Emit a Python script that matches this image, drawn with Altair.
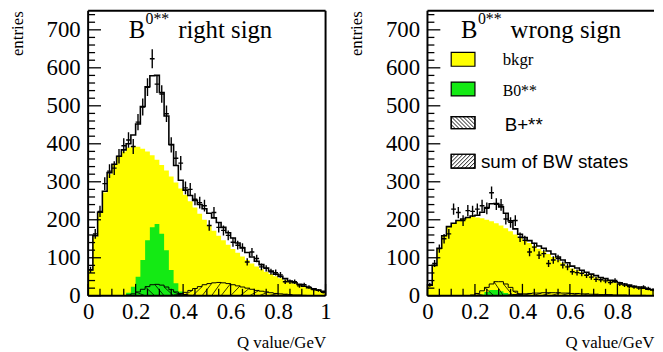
import altair as alt
import pandas as pd

# ---------------- data (50 bins of 0.02 GeV) ----------------
BIN_LO = [round(0.02 * i, 2) for i in range(50)]
X_TICKS = [0, 0.2, 0.4, 0.6, 0.8, 1]
Y_TICKS = [0, 100, 200, 300, 400, 500, 600, 700]
X_MINOR = [round(0.05 * i, 2) for i in range(21)]
Y_MINOR = list(range(0, 760, 20))

# right sign
bkgr_rs = [65, 155, 218, 272, 320, 345, 365, 380, 390, 394,
           392, 387, 380, 370, 358, 344, 330, 314, 298, 282,
           266, 249, 232, 216, 200, 185, 171, 158, 146, 134,
           123, 113, 103, 94, 85, 77, 70, 63, 57, 51,
           46, 41, 36, 32, 28, 24, 21, 18, 15, 12]
b0_rs = [0] * 8 + [8, 24, 50, 94, 146, 180, 189, 163, 120, 68, 33, 11] + [0] * 30
bplus_rs = [0] * 8 + [2, 5, 10, 17, 24, 29, 30, 28, 23, 16, 10, 6, 3, 1] + [0] * 28
bw_rs = [0] * 18 + [2, 5, 9, 14, 19, 24, 29, 32, 34, 35, 34, 32, 29, 26, 23, 20, 17, 14,
                    12, 10, 8, 6, 5, 4, 3, 2, 2, 1] + [0] * 4
fit_rs = [68, 158, 220, 275, 324, 346, 367, 384, 400, 423,
          452, 498, 550, 579, 580, 535, 473, 398, 343, 304,
          278, 264, 251, 240, 229, 217, 205, 193, 180, 166,
          152, 139, 126, 114, 102, 91, 82, 73, 65, 57,
          51, 45, 39, 34, 30, 25, 21, 18, 15, 12]
data_rs = [68, 163, 222, 295, 328, 336, 367, 395, 410, 393,
           457, 497, 549, 624, 557, 531, 479, 397, 362, 349,
           284, 280, 254, 245, 237, 185, 219, 180, 172, 159,
           141, 133, 127, 89, 115, 98, 76, 72, 63, 61,
           55, 37, 37, 37, 26, 29, 23, 16, 14, 9]

# wrong sign
bkgr_ws = [28, 80, 125, 158, 182, 191, 198, 202, 206, 208,
           206, 204, 200, 196, 191, 185, 178, 170, 161, 153,
           146, 139, 131, 124, 117, 110, 102, 94, 87, 80,
           72, 67, 62, 57, 53, 49, 45, 42, 38, 35,
           32, 29, 27, 24, 22, 19, 17, 15, 12, 10]
b0_ws = [0] * 11 + [3, 10, 15, 15, 12, 7, 3] + [0] * 32
bplus_ws = [0] * 9 + [2, 6, 13, 22, 31, 37, 37, 31, 22, 12, 5, 2] + [0] * 29
bw_ws = [0] * 16 + [1, 2, 3, 4, 5, 6, 7, 7, 8, 8, 8, 8, 7, 7, 6, 6, 5, 5, 4, 4,
                    3, 3, 3, 2, 2, 2, 1, 1, 1, 1] + [0] * 4
fit_ws = [28, 80, 125, 158, 182, 191, 198, 202, 206, 210,
          212, 220, 232, 242, 243, 234, 217, 197, 176, 162,
          153, 145, 138, 131, 125, 118, 110, 102, 94, 87,
          78, 73, 67, 62, 57, 53, 48, 45, 41, 37,
          34, 31, 28, 25, 23, 20, 17, 15, 12, 10]
data_ws = [29, 85, 124, 150, 163, 228, 219, 198, 224, 222,
           228, 237, 230, 271, 241, 239, 202, 193, 198, 154,
           146, 115, 128, 107, 111, 85, 94, 98, 81, 76,
           63, 61, 59, 54, 49, 43, 42, 39, 35, 40,
           31, 28, 24, 23, 20, 23, 19, 16, 12, 9]

LEGEND_LABELS = ["bkgr", "B0**", "B+**", "sum of BW states"]

# ---------------- styling ----------------
SERIF = "Liberation Serif"
SANS = "Liberation Sans"
PX_PER_UNIT = 240          # plot pixels per GeV
H = 288
YELLOW = "#ffff00"
GREEN = "#14ea14"
YS = alt.Scale(domain=[0, 750], nice=False, zero=False)
ONE = pd.DataFrame({"k": [0]})

Y_AXIS = alt.Axis(values=Y_TICKS, titleAnchor="end", titleFontSize=17,
                  titlePadding=20, labelPadding=8, labelFlush=False, labelOverlap=False,
                  labelFont=SERIF, labelFontSize=23, labelColor="black",
                  titleFont=SERIF, titleFontWeight="normal", titleColor="black")


def panel(bkgr, b0, bplus, bw, fit, data, word, legend, title_x, width):
    xmax = width / PX_PER_UNIT
    XS = alt.Scale(domain=[0, xmax], nice=False, zero=False)
    X_AXIS = alt.Axis(values=[t for t in X_TICKS if t <= xmax + 1e-9], format="~g",
                      titleAnchor="end", titleFontSize=17,
                      titlePadding=11, labelPadding=5, labelFlush=False, labelOverlap=False,
                      labelFont=SERIF, labelFontSize=23, labelColor="black",
                      titleFont=SERIF, titleFontWeight="normal", titleColor="black")

    def xenc(field):
        return alt.X(field, type="quantitative", scale=XS, axis=X_AXIS, title="Q value/GeV")

    def yenc(field):
        return alt.Y(field, type="quantitative", scale=YS, axis=Y_AXIS, title="entries")

    def step_df(vals):
        return pd.DataFrame({"e": BIN_LO + [1.0], "v": list(vals) + [vals[-1]]})

    def area(vals, color):
        return alt.Chart(step_df(vals)).mark_area(
            interpolate="step-after", color=color, clip=True).encode(
            x=xenc("e"), y=yenc("v"), y2=alt.datum(0))

    def outline(vals, w):
        return alt.Chart(step_df(vals)).mark_line(
            interpolate="step-after", color="black", strokeWidth=w, clip=True).encode(
            x=xenc("e"), y=yenc("v"))

    def hatch(vals, direction):
        rows = []
        for i in range(0, 49, 2):
            if direction == "back":
                h = vals[i]
                if h >= 3:
                    rows.append({"xa": BIN_LO[i], "ya": h, "xb": BIN_LO[i] + 0.04, "yb": 0})
            else:
                h = vals[i + 1]
                if h >= 3:
                    rows.append({"xa": BIN_LO[i], "ya": 0, "xb": BIN_LO[i] + 0.04, "yb": h})
        df = pd.DataFrame(rows, columns=["xa", "ya", "xb", "yb"])
        return alt.Chart(df).mark_rule(color="black", strokeWidth=0.8, clip=True).encode(
            x=xenc("xa"), x2="xb:Q", y=yenc("ya"), y2="yb:Q")

    def points(vals):
        df = pd.DataFrame({
            "lo": BIN_LO,
            "hi": [b + 0.02 for b in BIN_LO],
            "c": [b + 0.01 for b in BIN_LO],
            "v": vals,
            "elo": [v - v ** 0.5 for v in vals],
            "ehi": [v + v ** 0.5 for v in vals],
        })
        base = alt.Chart(df)
        vert = base.mark_rule(color="black", strokeWidth=1.4, clip=True).encode(
            x=xenc("c"), y=yenc("elo"), y2="ehi:Q")
        horiz = base.mark_rule(color="black", strokeWidth=1.4, clip=True).encode(
            x=xenc("lo"), x2="hi:Q", y=yenc("v"))
        return [vert, horiz]

    def ticks():
        ymaj = pd.DataFrame({"t": [t for t in Y_MINOR if t % 100 == 0]})
        ymin = pd.DataFrame({"t": [t for t in Y_MINOR if t % 100 != 0]})
        xs = [t for t in X_MINOR if t <= xmax + 1e-9]
        xmaj = pd.DataFrame({"t": [t for t in xs if abs(t / 0.2 - round(t / 0.2)) < 1e-6]})
        xmin = pd.DataFrame({"t": [t for t in xs if abs(t / 0.2 - round(t / 0.2)) >= 1e-6]})
        out = []
        for df, ln in ((ymaj, 13), (ymin, 7)):
            out.append(alt.Chart(df).mark_rule(color="black", strokeWidth=1.3).encode(
                y=yenc("t"), x=alt.value(0), x2=alt.value(ln)))
        for df, ln in ((xmaj, 12), (xmin, 7)):
            out.append(alt.Chart(df).mark_rule(color="black", strokeWidth=1.3).encode(
                x=xenc("t"), y=alt.value(H), y2=alt.value(H - ln)))
        return out

    def frame():
        sides = [(0, 0, 0, H), (0, width, 0, 0), (0, width, H, H)]
        if width >= PX_PER_UNIT:
            sides.append((width, width, 0, H))
        out = []
        for xa, xb, ya, yb in sides:
            out.append(alt.Chart(ONE).mark_rule(color="black", strokeWidth=2).encode(
                x=alt.value(xa), x2=alt.value(xb), y=alt.value(ya), y2=alt.value(yb)))
        return out

    def text(t, x, y, size, font=SERIF):
        return alt.Chart(ONE).mark_text(text=t, font=font, fontSize=size, align="left",
                                        baseline="alphabetic", color="black").encode(
            x=alt.value(x), y=alt.value(y))

    def box(x0, x1, y0, y1, fill):
        return alt.Chart(ONE).mark_rect(fill=fill, stroke="black", strokeWidth=1.2).encode(
            x=alt.value(x0), x2=alt.value(x1), y=alt.value(y0), y2=alt.value(y1))

    def box_hatch(x0, x1, y0, y1, direction, step=4):
        rows = []
        hgt = y1 - y0
        c = x0 - hgt
        while c < x1:
            if direction == "back":
                xa, ya = (c, y0) if c >= x0 else (x0, y0 + (x0 - c))
                xb, yb = (c + hgt, y1) if c + hgt <= x1 else (x1, y0 + (x1 - c))
            else:
                xa, ya = (c, y1) if c >= x0 else (x0, y1 - (x0 - c))
                xb, yb = (c + hgt, y0) if c + hgt <= x1 else (x1, y1 - (x1 - c))
            rows.append({"xa": xa, "ya": ya, "xb": xb, "yb": yb})
            c += step
        df = pd.DataFrame(rows)
        return alt.Chart(df).mark_rule(color="black", strokeWidth=0.9).encode(
            x=alt.X("xa:Q", scale=None, axis=None), x2="xb:Q",
            y=alt.Y("ya:Q", scale=None, axis=None), y2="yb:Q")

    layers = [
        area(bkgr, YELLOW),
        area(b0, GREEN),
        outline(bplus, 1.0), hatch(bplus, "back"),
        outline(bw, 1.0), hatch(bw, "fwd"),
        outline(fit, 1.6),
    ]
    layers += points(data)
    layers += ticks()
    layers += frame()
    layers += [
        text("B", title_x, 27, 25),
        text("0**", title_x + 17, 13, 16),
        text(word, title_x + 50, 27, 25),
    ]
    if legend:
        layers += [
            box(24, 48, 42, 56, YELLOW),
            text(LEGEND_LABELS[0], 76, 55, 17),
            box(24, 48, 72, 86, GREEN),
            text(LEGEND_LABELS[1], 76, 86, 16),
            box(24, 48, 107, 119, "white"),
            box_hatch(24, 48, 107, 119, "back"),
            box(24, 48, 107, 119, "transparent"),
            text(LEGEND_LABELS[2], 78, 121, 19, SANS),
            box(24, 48, 145, 159, "white"),
            box_hatch(24, 48, 145, 159, "fwd"),
            box(24, 48, 145, 159, "transparent"),
            text(LEGEND_LABELS[3], 54, 159, 19, SANS),
        ]
    return alt.layer(*layers).properties(width=width, height=H)


left = panel(bkgr_rs, b0_rs, bplus_rs, bw_rs, fit_rs, data_rs, "right sign", False, 41, 240)
# the right-hand panel runs past the window edge in the original; only its visible part is drawn
right = panel(bkgr_ws, b0_ws, bplus_ws, bw_ws, fit_ws, data_ws, "wrong sign", True, 34, 229)

chart = alt.hconcat(left, right, spacing=16).properties(
    padding={"left": 0, "top": 0, "right": 0, "bottom": 0},
    background="white",
).configure_view(
    stroke=None
).configure_axis(
    grid=False, domain=False, ticks=False, tickSize=0,
)

chart.save("out.html", embed_options={"renderer": "svg", "actions": False})
